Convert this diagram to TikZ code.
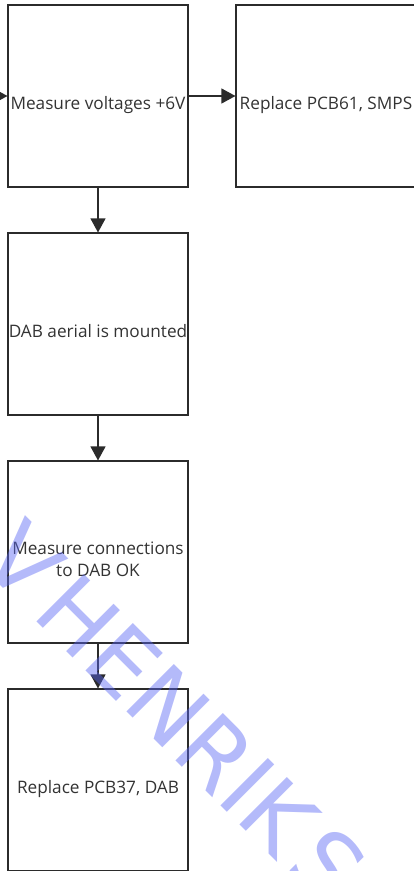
\documentclass[tikz,border=0pt]{standalone}
\usepackage{fontspec}
\setmainfont{Open Sans}
\newfontfamily\stampfont{DejaVu Sans}
\usetikzlibrary{arrows.meta}
\definecolor{ink}{HTML}{2B2B2B}
\definecolor{txt}{HTML}{333333}
\definecolor{wmblue}{RGB}{89,102,244}
\begin{document}
\begin{tikzpicture}[x=1pt,y=-1pt,
  box/.style={draw=ink, line width=1.1pt, minimum width=180pt, minimum height=182pt, inner sep=0pt},
  lbl/.style={text=txt, font=\fontsize{17.2}{22}\selectfont, inner sep=0pt, align=center},
  flow/.style={draw=ink, line width=1.1pt, -{Triangle[length=14pt,width=15pt]}},
  stamp/.style={text=wmblue, text opacity=0.45, font=\stampfont\fontsize{92}{92}\selectfont, inner sep=0pt}
  ]
\useasboundingbox (0,0) rectangle (414,871);
\clip (0,0) rectangle (414,871);

% process boxes
\node[box] (b1) at (98,96) {};
\node[box] (b2) at (326,96) {};
\node[box] (b3) at (98,324) {};
\node[box] (b4) at (98,552) {};
\node[box] (b5) at (98,780) {};

% box texts
\node[lbl, anchor=base] (t1) at (98,109.5) {Measure voltages +6V};
\node[lbl, anchor=base] (t2) at (326,109.5) {Replace PCB61, SMPS};
\node[lbl, anchor=base] (t3) at (98,337.5) {DAB aerial is mounted};
\node[lbl] (t4) at (98,559) {Measure connections\\to DAB OK};
\node[lbl, anchor=base] (t5) at (98,793.5) {Replace PCB37, DAB};

% connectors
\coordinate (entry) at (-20,96);
\draw[flow] (entry) -- (b1.west);
\draw[flow] (b1.east) -- (b2.west);
\draw[flow] (b1.south) -- (b3.north);
\draw[flow] (b3.south) -- (b4.north);
\draw[flow] (b4.south) -- (b5.north);

% diagonal watermark
\node[stamp, rotate=-45, anchor=base west] (wmk) at (-22.5,562.5)
  {V\kern12pt HENRIK\kern10pt S\kern10pt E};
\end{tikzpicture}
\end{document}
